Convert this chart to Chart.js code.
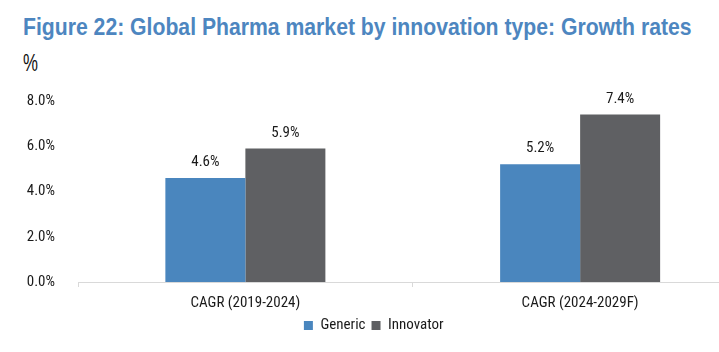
<!DOCTYPE html>
<html>
<head>
<meta charset="utf-8">
<script src="https://cdn.jsdelivr.net/npm/chart.js@4"></script>
<style>
    html, body { margin: 0; padding: 0; background: #fff; overflow: hidden; }
    body { width: 719px; height: 352px; position: relative; font-family: "Liberation Sans", Arial, sans-serif; }
    #title { position: absolute; left: 23px; top: 12.6px; font-size: 24px; font-weight: bold; color: #4d86c0; white-space: nowrap; transform-origin: 0 0; }
    #unit { position: absolute; left: 23px; top: 49px; font-size: 24px; color: #111; transform: scaleX(0.7); transform-origin: 0 0; }
    #wrap { position: absolute; left: 0; top: 77px; width: 775px; height: 267px; }
</style>
</head>
<body>
<div id="title">Figure 22: Global Pharma market by innovation type: Growth rates</div>
<div id="unit">%</div>
<div id="wrap"><canvas id="growthChart"></canvas></div>
<script>
// du lieu
const categories = ['CAGR (2019-2024)', 'CAGR (2024-2029F)'];
const genericValues = [4.6, 5.2];
const innovatorValues = [5.9, 7.4];
const yTicks = [0, 2, 4, 6, 8];

// keo tieu de ve dung be rong
const titleEl = document.getElementById('title');
titleEl.style.transform = 'scaleX(' + (669 / titleEl.offsetWidth) + ')';

const FONT = "'Roboto Condensed', 'Liberation Sans', Arial, sans-serif";

// nhan gia tri tren cot
const barLabels = {
    id: 'barLabels',
    afterDatasetsDraw(chart) {
        const ctx = chart.ctx;
        ctx.save();
        ctx.font = '15px ' + FONT;
        ctx.fillStyle = '#1a1a1a';
        ctx.textAlign = 'center';
        ctx.textBaseline = 'alphabetic';
        chart.data.datasets.forEach(function (ds, i) {
            chart.getDatasetMeta(i).data.forEach(function (bar, j) {
                ctx.fillText(ds.data[j].toFixed(1) + '%', bar.x, bar.y - 12);
            });
        });
        ctx.restore();
    }
};

const ctx = document.getElementById('growthChart').getContext('2d');
new Chart(ctx, {
    type: 'bar',
    data: {
        labels: categories,
        datasets: [{
            label: 'Generic',
            data: genericValues,
            backgroundColor: '#4a86be'
        }, {
            label: 'Innovator',
            data: innovatorValues,
            backgroundColor: '#5f6063'
        }]
    },
    options: {
        responsive: true,
        maintainAspectRatio: false,
        animation: false,
        categoryPercentage: 0.478,
        barPercentage: 1,
        layout: { padding: { top: 7, right: 27.5, left: 0, bottom: 1 } },
        scales: {
            x: {
                afterFit: function (scale) { scale.height = 30; },
                grid: { display: true, drawOnChartArea: false, offset: true, tickLength: 5, color: '#d9d9d9' },
                border: { color: '#d9d9d9' },
                ticks: { color: '#1a1a1a', font: { family: FONT, size: 15 }, padding: 7 }
            },
            y: {
                min: 0,
                max: 8,
                afterBuildTicks: function (scale) {
                    scale.ticks = yTicks.map(function (v) { return { value: v }; });
                },
                afterFit: function (scale) { scale.width = 78; },
                grid: { display: false },
                border: { display: false },
                ticks: {
                    color: '#1a1a1a',
                    font: { family: FONT, size: 15 },
                    padding: 15,
                    callback: function (v) { return v.toFixed(1) + '%'; }
                }
            }
        },
        plugins: {
            legend: {
                position: 'bottom',
                labels: { boxWidth: 9, boxHeight: 9, color: '#1a1a1a', font: { family: FONT, size: 15 }, padding: 6 }
            },
            tooltip: { enabled: false }
        }
    },
    plugins: [barLabels]
});
</script>
</body>
</html>
